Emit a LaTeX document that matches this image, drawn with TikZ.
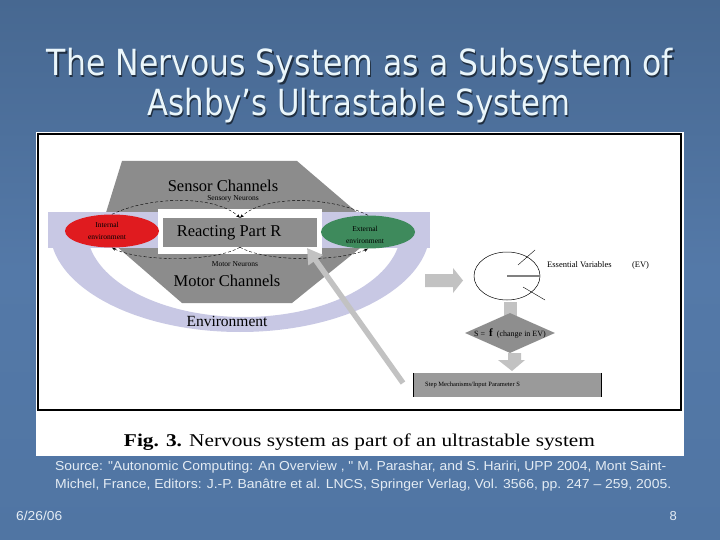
\documentclass[tikz,border=0pt]{standalone}
\usepackage{fontspec}
\setmainfont{Liberation Serif}
\newfontfamily\titlef{DejaVu Sans}
\newfontfamily\arialf{Liberation Sans}
\usetikzlibrary{arrows.meta,shapes.geometric}
\definecolor{bgtop}{HTML}{476891}
\definecolor{bgmid}{HTML}{5479A8}
\definecolor{bgbot}{HTML}{5075A3}
\definecolor{titlec}{HTML}{EAF6FB}
\definecolor{srcc}{HTML}{E4ECF4}
\definecolor{hexgray}{HTML}{8C8C8C}
\definecolor{boxgray}{HTML}{8E8E8E}
\definecolor{lav}{HTML}{C8C8E4}
\definecolor{redc}{HTML}{E01B1F}
\definecolor{greenc}{HTML}{3E8A5C}
\definecolor{arrgray}{HTML}{C2C2C2}
\definecolor{stepgray}{HTML}{9A9A9A}
\tikzset{
  neur/.style={densely dashed, line width=0.4pt, -{Stealth[length=4pt,width=3pt]}},
  bigtxt/.style={font=\fontsize{16.5}{16.5}\selectfont, inner sep=0},
  smalltxt/.style={font=\fontsize{7.5}{8}\selectfont, inner sep=0, align=center},
  blockarr/.style={fill=arrgray},
}
\begin{document}
\begin{tikzpicture}[x=1pt,y=-1pt]
\useasboundingbox (0,0) rectangle (720,540);
% background
\shade[top color=bgtop, bottom color=bgmid] (0,0) rectangle (720,270);
\shade[top color=bgmid, bottom color=bgbot] (0,270) rectangle (720,540);
% title
\foreach \dx/\col in {1.2/black!55!bgtop, 0/titlec} {
  \node[text=\col, inner sep=0] (t1\dx) at ([xshift=\dx pt, yshift=-\dx pt]360,66)
    {\resizebox{626pt}{\height}{\fontsize{36}{36}\titlef The Nervous System as a Subsystem of}};
  \node[text=\col, inner sep=0] (t2\dx) at ([xshift=\dx pt, yshift=-\dx pt]359,106)
    {\resizebox{423pt}{\height}{\fontsize{36}{36}\titlef Ashby’s Ultrastable System}};
}
% white panel and frame
\fill[white] (36,132) rectangle (684,456);
\draw[line width=1.2pt] (38,134) rectangle (681,410);
% hexagon
\fill[hexgray] (122,161) -- (297,161) -- (380,232) -- (292,303) -- (182,303) -- (100,232) -- cycle;
% environment
\fill[lav] (48,212) rectangle (158,248);
\fill[lav] (322,212) rectangle (430,248);
\fill[lav] (50,230) arc[start angle=180, end angle=0, x radius=190, y radius=102]
  -- (401,230) arc[start angle=0, end angle=180, x radius=157, y radius=87] -- cycle;
\fill[white] (158,209) rectangle (322,254);
% reacting part
\node[fill=boxgray, minimum width=154pt, minimum height=29pt, inner sep=0] (R) at (240,232.5) {};
\node[bigtxt] (Rt) at (229,233) {Reacting Part R};
% environments
\node[ellipse, fill=redc, minimum width=94pt, minimum height=33pt, inner sep=0] (IE) at (112,231) {};
\node[smalltxt, font=\fontsize{7.5}{11.5}\selectfont] (IEt) at (107,231) {Internal\\environment};
\node[ellipse, fill=greenc, minimum width=94pt, minimum height=33pt, inner sep=0] (EE) at (368,232) {};
\node[smalltxt, font=\fontsize{7.5}{12}\selectfont] (EEt) at (365,235) {External\\environment};
% channel labels
\node[bigtxt] (SC) at (223,186) {Sensor Channels};
\node[smalltxt] (SN) at (233,199) {Sensory Neurons};
\node[smalltxt] (MN) at (235,264) {Motor Neurons};
\node[bigtxt] (MC) at (227,281) {Motor Channels};
\node[bigtxt, font=\fontsize{15.5}{15.5}\selectfont] (EN) at (227,321) {Environment};
% neuron connectors
\draw[neur] (IE.north) .. controls (150,196) and (215,195) .. (R.north);
\draw[neur] (EE.north) .. controls (330,196) and (265,195) .. (R.north);
\draw[neur] (R.south) .. controls (215,262) and (140,262) .. (IE.south);
\draw[neur] (R.south) .. controls (265,262) and (340,262) .. (EE.south);
% block arrow to EV
\fill[blockarr] (425,274) -- (453,274) -- (453,268) -- (463,280.5) -- (453,293) -- (453,287) -- (425,287) -- cycle;
% essential variables
\node[ellipse, draw, line width=0.5pt, minimum width=66pt, minimum height=48pt, inner sep=0] (EV) at (507,276) {};
\draw[gray, line width=1.6pt] (EV.center) -- (EV.east);
\draw[line width=0.4pt] (518,265) -- (535,250);
\draw[line width=0.4pt] (523,287) -- (545,300);
\node[anchor=west, smalltxt, font=\fontsize{8.5}{9}\selectfont] (EVt) at (547,265) {Essential Variables\hspace{2.4em}(EV)};
% stub + diamond
\fill[blockarr] (504,302) rectangle (517,316);
\node[diamond, fill=boxgray, minimum width=90pt, minimum height=40pt, inner sep=0] (D) at (510,333) {};
\node[smalltxt, font=\fontsize{8}{8}\selectfont] (Dt) at (510,333) {S =\enspace{\fontsize{11}{11}\selectfont\textbf{f}}\enspace(change in EV)};
% arrow down to step box
\fill[blockarr] (508,353) -- (521,353) -- (521,360) -- (525,360) -- (512,371) -- (498,360) -- (508,360) -- cycle;
% step box
\node[fill=stepgray, minimum width=187pt, minimum height=24pt, inner sep=0] (S) at (507.5,385) {};
\draw[line width=0.8pt] (S.north west) -- (S.south west);
\draw[line width=1.4pt] (S.north east) -- (S.south east);
\node[anchor=west, smalltxt, font=\fontsize{6.5}{7}\selectfont] (St) at (425,385) {Step Mechanisms/Input Parameter S};
% big feedback arrow
\coordinate (bs) at (403,383);
\draw[arrgray, line width=5.5pt, -{Triangle[length=15pt,width=17pt]}] (bs) -- (307,248);
% caption
\node[inner sep=0] (cap) at (359.5,442) {\resizebox{471pt}{\height}{\fontsize{18}{18}\selectfont\textbf{Fig. 3.} Nervous system as part of an ultrastable system}};
% source
\node[anchor=west, inner sep=0, text=srcc] (src1) at (55,467) {\resizebox{611pt}{\height}{\fontsize{13}{13}\arialf Source: "Autonomic Computing: An Overview , " M. Parashar, and S. Hariri, UPP 2004, Mont Saint-}};
\node[anchor=west, inner sep=0, text=srcc] (src2) at (55,485) {\resizebox{616pt}{\height}{\fontsize{13}{13}\arialf Michel, France, Editors: J.-P. Banâtre et al. LNCS, Springer Verlag, Vol. 3566, pp. 247 – 259, 2005.}};
\node[anchor=west, inner sep=0, text=srcc] (date) at (16,516) {\resizebox{46pt}{\height}{\fontsize{13}{13}\arialf 6/26/06}};
\node[anchor=east, inner sep=0, text=srcc, font=\fontsize{13}{13}\arialf] (pg) at (677,516) {8};
\end{tikzpicture}
\end{document}
